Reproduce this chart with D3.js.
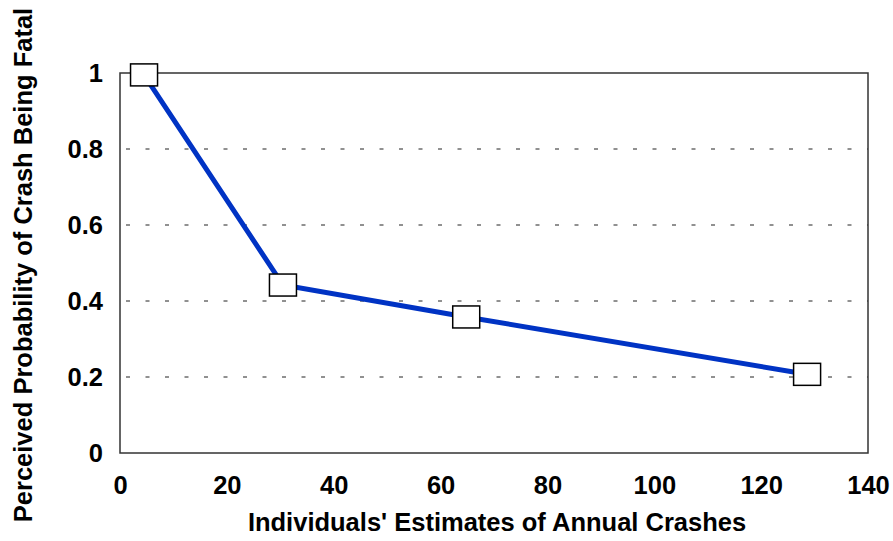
<!DOCTYPE html>
<html>
<head>
<meta charset="utf-8">
<script src="https://cdn.jsdelivr.net/npm/d3@7"></script>
<style>
  body { margin: 0; background: #fff; }
  text { font-family: "Liberation Sans", Arial, sans-serif; font-weight: bold; fill: #000; }
</style>
</head>
<body>
<div id="chart"></div>
<script>
// data
const crashEstimates = [4.5, 30.5, 64.8, 128.6]
const fatalProbability = [0.995, 0.442, 0.358, 0.207]
const xTicks = [0, 20, 40, 60, 80, 100, 120, 140]
const yTicks = [0, 0.2, 0.4, 0.6, 0.8, 1]
const xTitle = "Individuals' Estimates of Annual Crashes"
const yTitle = 'Perceived Probability of Crash Being Fatal'

const width = 893
const height = 541
const margin = { top: 73, right: 25, bottom: 88, left: 120 }
const fontSize = '25.5px'

const svg = d3.select('#chart')
  .append('svg')
  .attr('width', width)
  .attr('height', height)

const x = d3.scaleLinear().domain([0, 140]).range([margin.left, width - margin.right])
const y = d3.scaleLinear().domain([0, 1]).range([height - margin.bottom, margin.top])

// dashed gridlines
svg.append('g')
  .selectAll('line')
  .data(yTicks.filter(d => d > 0 && d < 1))
  .join('line')
  .attr('x1', x(0) + 6)
  .attr('x2', x(140))
  .attr('y1', d => y(d))
  .attr('y2', d => y(d))
  .attr('stroke', '#222')
  .attr('stroke-width', 1)
  .attr('stroke-dasharray', '4,15.5')

// plot frame
svg.append('rect')
  .attr('x', x(0))
  .attr('y', y(1))
  .attr('width', x(140) - x(0))
  .attr('height', y(0) - y(1))
  .attr('fill', 'none')
  .attr('stroke', '#333')
  .attr('stroke-width', 1.5)

// axes without tick marks
const xAxis = svg.append('g')
  .attr('transform', `translate(0,${y(0)})`)
  .call(d3.axisBottom(x).tickValues(xTicks).tickSize(0).tickPadding(23).tickFormat(d3.format('d')))
xAxis.select('.domain').remove()
xAxis.selectAll('text').style('font-size', fontSize).style('font-family', '"Liberation Sans", Arial, sans-serif')

const yAxis = svg.append('g')
  .attr('transform', `translate(${x(0)},0)`)
  .call(d3.axisLeft(y).tickValues(yTicks).tickSize(0).tickPadding(17).tickFormat(d => d === 0 || d === 1 ? d : d3.format('.1f')(d)))
yAxis.select('.domain').remove()
yAxis.selectAll('text').style('font-size', fontSize).style('font-family', '"Liberation Sans", Arial, sans-serif')

// series line
const points = crashEstimates.map((d, i) => [d, fatalProbability[i]])
svg.append('path')
  .datum(points)
  .attr('fill', 'none')
  .attr('stroke', '#0033c4')
  .attr('stroke-width', 5)
  .attr('d', d3.line().x(d => x(d[0])).y(d => y(d[1])))

// square markers
svg.append('g')
  .selectAll('rect')
  .data(points)
  .join('rect')
  .attr('x', d => x(d[0]) - 13.5)
  .attr('y', d => y(d[1]) - 11)
  .attr('width', 27)
  .attr('height', 22)
  .attr('fill', '#fff')
  .attr('stroke', '#000')
  .attr('stroke-width', 1.5)

// titles
svg.append('text')
  .attr('x', (x(0) + x(140)) / 2 + 3)
  .attr('y', 531)
  .attr('text-anchor', 'middle')
  .style('font-size', fontSize)
  .text(xTitle)

svg.append('text')
  .attr('transform', `translate(32,${265}) rotate(-90)`)
  .attr('text-anchor', 'middle')
  .style('font-size', fontSize)
  .text(yTitle)
</script>
</body>
</html>
